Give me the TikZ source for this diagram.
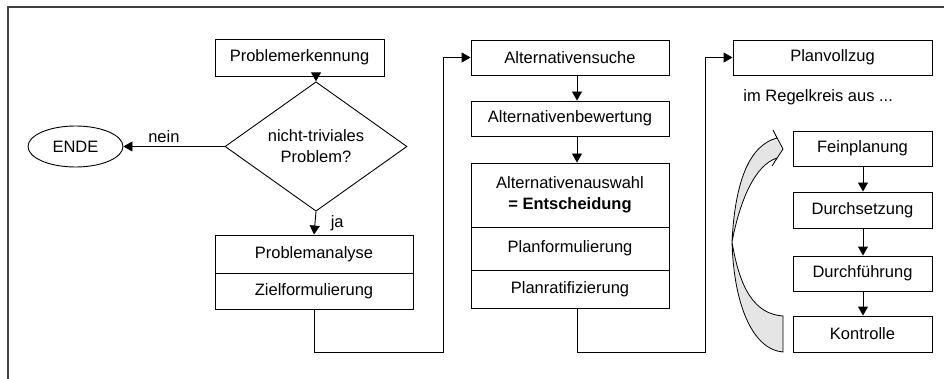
\documentclass[tikz,border=0pt]{standalone}
\usepackage{fontspec}
\setmainfont{Liberation Sans}
\usetikzlibrary{arrows.meta,shapes.geometric}

\tikzset{
  pbox/.style={draw,minimum width=198,minimum height=35,inner sep=0pt},
  sbox/.style={pbox,minimum width=139},
  dbox/.style={draw,diamond,minimum width=182,minimum height=91,inner sep=0pt,align=center},
  ebox/.style={draw,ellipse,minimum width=95,minimum height=41,inner sep=0pt},
  frameline/.style={line width=2pt,black!75}
}

\begin{document}
\begin{tikzpicture}[x=1pt,y=-1pt,>={Triangle[length=9pt,width=10pt]},
  font=\fontsize{16.5}{21}\selectfont,line width=0.9pt]
  \useasboundingbox (0,0) rectangle (944,379);
  \draw[frameline] (7.5,379) -- (7.5,7.5) -- (944,7.5);

  \node[pbox,minimum width=169,minimum height=37] (pe) at (299.5,57.5) {Problemerkennung};
  \node[dbox] (dia) at (316,146.5) {nicht-triviales\\Problem?};
  \node[ebox] (ende) at (75.5,146.5) {ENDE};
  \node[pbox,minimum height=38] (pa) at (314,254) {Problemanalyse};
  \node[pbox,minimum height=36] (zf) at (314,291) {Zielformulierung};

  \node[pbox] (as) at (570,57.5) {Alternativensuche};
  \node[pbox] (ab) at (570,118.5) {Alternativenbewertung};
  \node[pbox,minimum height=64,align=center] (aw) at (570,195) {Alternativenauswahl\\\textbf{= Entscheidung}};
  \node[pbox,minimum height=43] (pf) at (570,248.5) {Planformulierung};
  \node[pbox,minimum height=38] (pr) at (570,289) {Planratifizierung};

  \node[pbox,minimum width=199] (pv) at (832.5,57.5) {Planvollzug};
  \node[anchor=west,inner sep=0pt] (rk) at (743,97) {im Regelkreis aus ...};
  \node[sbox] (fp) at (862.5,148.5) {Feinplanung};
  \node[sbox,minimum height=36] (ds) at (862.5,210) {Durchsetzung};
  \node[sbox] (df) at (862.5,273.5) {Durchführung};
  \node[sbox,minimum height=36] (ko) at (862.5,334) {Kontrolle};

  \draw[->] (dia.north |- pe.south) -- (dia.north);
  \draw[->] (dia.west) -- (ende.east) node[pos=0.6,above] {nein};
  \draw[->] (dia.south) -- (pa.north) node[midway,right=12pt] {ja};

  \coordinate (ax) at (577,0);
  \draw[->] (ax |- as.south) -- (ax |- ab.north);
  \draw[->] (ax |- ab.south) -- (ax |- aw.north);

  \coordinate (bx) at (863,0);
  \draw[->] (bx |- fp.south) -- (bx |- ds.north);
  \draw[->] (bx |- ds.south) -- (bx |- df.north);
  \draw[->] (bx |- df.south) -- (bx |- ko.north);

  \coordinate (ca) at (443,352);
  \draw[->] (zf.south) -- (zf.south |- ca) -- (ca) |- (as.west);
  \coordinate (cb) at (705,352);
  \draw[->] (ax |- pr.south) -- (ax |- cb) -- (cb) |- (pv.west);

  \draw[fill=black!10,line width=0.8pt] (783,352) .. controls (755,350) and (734,310) .. (732,242)
    .. controls (735,180) and (750,145) .. (777,138) -- (773,130) -- (783,149) -- (772,166) -- (777,158)
    .. controls (755,165) and (740,200) .. (732,242)
    .. controls (740,290) and (755,314) .. (783,316) -- cycle;
\end{tikzpicture}
\end{document}
